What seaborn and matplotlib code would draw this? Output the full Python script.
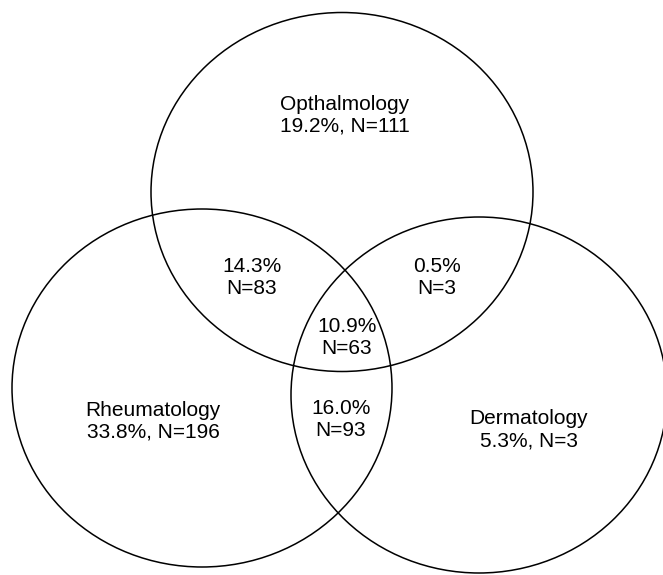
import matplotlib
matplotlib.use("Agg")
import matplotlib.pyplot as plt
from matplotlib.patches import Ellipse
import seaborn as sns

# set names and exclusive shares
set_names = ["Opthalmology", "Rheumatology", "Dermatology"]
set_pct = [19.2, 33.8, 5.3]
set_n = [111, 196, 3]

# overlap regions
overlap_names = ["Oph+Rheum", "Oph+Derm", "All three", "Rheum+Derm"]
overlap_pct = [14.3, 0.5, 10.9, 16.0]
overlap_n = [83, 3, 63, 93]

sns.set_theme(style="white")
plt.rcParams["font.family"] = ["Liberation Sans", "DejaVu Sans"]

fig = plt.figure(figsize=(6.63, 5.75), dpi=100)
ax = fig.add_axes([0, 0, 1, 1])
ax.set_xlim(0, 663)
ax.set_ylim(575, 0)
ax.set_aspect("equal")
ax.axis("off")

# ellipse geometry (pixel space): center, width, height
shapes = [((342, 192), 382, 359),
          ((202, 388), 380, 358),
          ((479, 395), 376, 356)]
for (c, w, h) in shapes:
    ax.add_patch(Ellipse(c, w, h, fill=False, edgecolor="black", lw=1.1))

fs = 15
set_pos = [(345, 115), (153, 421), (529, 430)]
for name, p, n, (x, y) in zip(set_names, set_pct, set_n, set_pos):
    ax.text(x, y, f"{name}\n{p:.1f}%, N={n}", ha="center", va="center",
            fontsize=fs, linespacing=1.2, color="black")

overlap_pos = [(252, 277), (437, 277), (347, 337), (341, 420)]
for p, n, (x, y) in zip(overlap_pct, overlap_n, overlap_pos):
    ax.text(x, y, f"{p:.1f}%\nN={n}", ha="center", va="center",
            fontsize=fs, linespacing=1.2, color="black")

fig.savefig("out.png", dpi=100, facecolor="white")
